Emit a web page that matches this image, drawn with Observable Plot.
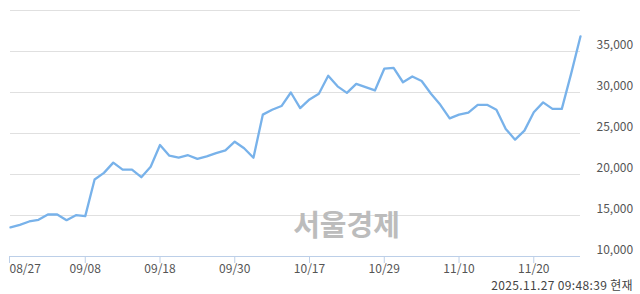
<!DOCTYPE html>
<html>
<head>
<meta charset="utf-8">
<script src="https://cdn.jsdelivr.net/npm/d3@7"></script>
<script src="https://cdn.jsdelivr.net/npm/@observablehq/plot@0.6"></script>
<style>
  html, body { margin: 0; padding: 0; background: #fff; overflow: hidden; }
  #chart { width: 640px; height: 278px; }
  #caption { width: 640px; height: 16px; line-height: 16px; text-align: right; box-sizing: border-box; padding-right: 7px; font-family: 'Noto Sans CJK KR', 'Noto Sans', sans-serif; font-size: 12px; letter-spacing: 0.35px; color: #444; margin-top: -0.7px; white-space: nowrap; }
</style>
</head>
<body>
<div id="chart"></div>
<div id="caption"></div>
<script>
const dates = [
  "08/27","08/28","08/29","09/01","09/02","09/03","09/04","09/05","09/08","09/09",
  "09/10","09/11","09/12","09/15","09/16","09/17","09/18","09/19","09/22","09/23",
  "09/24","09/25","09/26","09/29","09/30","10/01","10/02","10/10","10/13","10/14",
  "10/15","10/16","10/17","10/20","10/21","10/22","10/23","10/24","10/27","10/28",
  "10/29","10/30","10/31","11/03","11/04","11/05","11/06","11/07","11/10","11/11",
  "11/12","11/13","11/14","11/17","11/18","11/19","11/20","11/21","11/24","11/25",
  "11/26","11/27"
];
const prices = [
  13550,13860,14270,14470,15120,15120,14430,15040,14920,19390,
  20200,21450,20600,20600,19670,20950,23600,22300,22050,22350,
  21900,22200,22600,22950,24000,23200,22050,27300,27900,28350,
  30000,28100,29150,29850,32050,30750,29950,31050,30650,30250,
  32900,33000,31250,31950,31400,29850,28500,26850,27300,27550,
  28500,28500,27900,25550,24250,25350,27600,28800,28000,28000,
  32300,36850
];
const xTickLabels = ["08/27","09/08","09/18","09/30","10/17","10/29","11/10","11/20"];
const yTickValues = [10000,15000,20000,25000,30000,35000];
const gridValues = [15000,20000,25000,30000,35000,40000];
const watermark = "서울경제";
const captionText = "2025.11.27 09:48:39 현재";

const data = dates.map((d, i) => ({date: d, price: prices[i]}));

const axisCommon = {tickSize: 7, tickPadding: 1, stroke: "#bccfe8", strokeOpacity: 1, fill: "#555", label: null};

const chart = Plot.plot({
  width: 640,
  height: 278,
  marginTop: 10,
  marginBottom: 22,
  marginLeft: 10,
  marginRight: 60,
  style: {fontFamily: "'Noto Sans CJK KR', 'Noto Sans', sans-serif", fontSize: "12px", color: "#555", background: "#fff"},
  x: {type: "point", domain: dates, padding: 0, round: false, inset: 0},
  y: {domain: [10000, 40000]},
  marks: [
    Plot.ruleY(gridValues, {stroke: "#e0e0e0", strokeWidth: 1}),
    Plot.ruleY([10000], {stroke: "#bccfe8", strokeWidth: 1}),
    Plot.axisX({...axisCommon, ticks: xTickLabels.slice(1)}),
    Plot.axisX({...axisCommon, ticks: xTickLabels.slice(0, 1), textAnchor: "start", dx: -1}),
    Plot.axisY({anchor: "right", ticks: yTickValues, tickFormat: d3.format(","), tickSize: 0, tickPadding: 16, dy: -6, fill: "#555", label: null}),
    Plot.text([watermark], {frameAnchor: "bottom", dx: 51, dy: -21, fontSize: 29, fontWeight: "bold", fill: "#bcbcbc"}),
    Plot.lineY(data, {x: "date", y: "price", stroke: "#78b2ea", strokeWidth: 2.3, strokeLinejoin: "round"})
  ]
});
document.getElementById("chart").appendChild(chart);
document.getElementById("caption").textContent = captionText;
</script>
</body>
</html>
